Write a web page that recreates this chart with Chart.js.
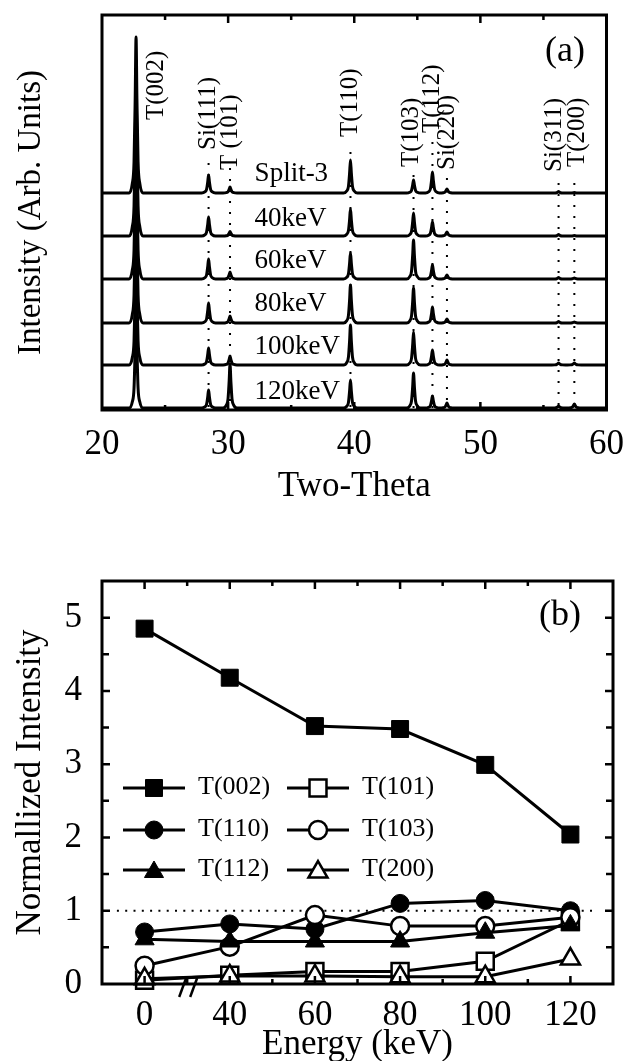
<!DOCTYPE html>
<html>
<head>
<meta charset="utf-8">
<script src="https://cdn.jsdelivr.net/npm/chart.js@4.4.0/dist/chart.umd.min.js"></script>
<style>
  html, body { margin: 0; padding: 0; background: #fff; }
  canvas { display: block; }
</style>
</head>
<body>
<canvas id="xrdChart" width="630" height="530"></canvas>
<canvas id="intChart" width="630" height="531"></canvas>
<script>
// ---------- (a) XRD patterns ----------
const peakNames  = ['T(002)', 'Si(111)', 'T (101)', 'T(110)', 'T(103)', 'T(112)', 'Si(220)', 'Si(311)', 'T(200)'];
const peakAngles = [22.7, 28.45, 30.15, 39.7, 44.7, 46.2, 47.35, 56.2, 57.45];

const sampleNames  = ['Split-3', '40keV', '60keV', '80keV', '100keV', '120keV'];
const traceOffsets = [217, 174, 131, 87, 45, 2];

// peak heights above each trace's own baseline, same order as peakAngles
const heightsSplit3 = [156, 18, 6, 33, 13, 21, 4, 1.5, 0.5];
const heights40     = [150, 19, 4.5, 27, 23, 14, 4, 1.5, 0.5];
const heights60     = [145, 20, 7, 26, 39, 14, 4, 1.5, 1];
const heights80     = [140, 20, 7, 38, 35, 16, 4, 1.5, 1];
const heights100    = [120, 17, 9, 40, 33, 15, 5, 2, 2];
const heights120    = [100, 18, 44, 28, 35, 12, 5, 2, 4];
const traceHeights  = [heightsSplit3, heights40, heights60, heights80, heights100, heights120];

const twoThetaTicks = [20, 30, 40, 50, 60];

// ---------- (b) normalized intensity ----------
const energies = [0, 40, 60, 80, 100, 120];
const t002 = [4.85, 4.18, 3.52, 3.48, 2.99, 2.04];
const t101 = [0.05, 0.12, 0.17, 0.17, 0.31, 0.87];
const t110 = [0.71, 0.82, 0.75, 1.10, 1.14, 1.00];
const t103 = [0.25, 0.51, 0.94, 0.79, 0.79, 0.91];
const t112 = [0.61, 0.58, 0.58, 0.58, 0.70, 0.80];
const t200 = [0.07, 0.11, 0.11, 0.10, 0.10, 0.34];
const energyTicks = [0, 40, 60, 80, 100, 120];

Chart.defaults.font.family = "'Liberation Serif', 'Times New Roman', Times, serif";
Chart.defaults.color = '#000';
Chart.defaults.animation = false;

const SERIF = "'Liberation Serif', 'Times New Roman', Times, serif";

// line shape used for one diffraction peak: [offset in degrees, fraction of height]
const peakProfile = [[-0.55, 0], [-0.3, 0.06], [-0.16, 0.2], [-0.07, 0.6], [0, 1],
                     [0.07, 0.6], [0.16, 0.2], [0.3, 0.06], [0.55, 0]];

function buildTrace(offset, heights) {
  const pts = [{x: 20, y: offset}];
  peakAngles.forEach((a, j) => {
    peakProfile.forEach(([dx, f]) => pts.push({x: a + dx, y: offset + heights[j] * f}));
  });
  pts.push({x: 60, y: offset});
  return pts;
}

// label placement for peak names (pixel shift from the peak, bottom end of text, top of dotted guide)
const peakLabelLayout = [
  {dx: 20, bottom: 120, guideTop: null},
  {dx: 0,  bottom: 150, guideTop: 163},
  {dx: 0,  bottom: 170, guideTop: 168},
  {dx: 0,  bottom: 137, guideTop: 152},
  {dx: -2, bottom: 167, guideTop: 175},
  {dx: 0,  bottom: 133, guideTop: 142},
  {dx: 0,  bottom: 170, guideTop: 178},
  {dx: -4, bottom: 172, guideTop: 183},
  {dx: 3,  bottom: 167, guideTop: 183}
];
const sampleLabelLift = [19, 17, 18, 19, 18, 16];

const xrdDecor = {
  id: 'xrdDecor',
  beforeDatasetsDraw(chart) {
    const {ctx, chartArea: ca, scales: {x}} = chart;
    ctx.save();
    ctx.strokeStyle = '#000';
    ctx.lineWidth = 2;
    ctx.setLineDash([2, 9]);
    peakAngles.forEach((a, j) => {
      const top = peakLabelLayout[j].guideTop;
      if (top === null) return;
      const px = x.getPixelForValue(a);
      ctx.beginPath();
      ctx.moveTo(px, top);
      ctx.lineTo(px, ca.bottom);
      ctx.stroke();
    });
    ctx.restore();
  },
  afterDraw(chart) {
    const {ctx, chartArea: ca, scales: {x, y}} = chart;
    ctx.save();
    ctx.strokeStyle = '#000';
    ctx.fillStyle = '#000';
    // ticks, pointing inward
    ctx.lineWidth = 2.5;
    for (let v = 25; v < 60; v += 5) {
      const px = x.getPixelForValue(v);
      const len = v % 10 === 0 ? 8 : 5;
      ctx.beginPath();
      ctx.moveTo(px, ca.bottom); ctx.lineTo(px, ca.bottom - len);
      ctx.moveTo(px, ca.top); ctx.lineTo(px, ca.top + len);
      ctx.stroke();
    }
    ctx.lineWidth = 3;
    ctx.strokeRect(ca.left, ca.top, ca.right - ca.left, ca.bottom - ca.top);

    // peak names
    ctx.font = '25px ' + SERIF;
    ctx.textAlign = 'left';
    ctx.textBaseline = 'middle';
    peakNames.forEach((name, j) => {
      const lay = peakLabelLayout[j];
      ctx.save();
      ctx.translate(x.getPixelForValue(peakAngles[j]) + lay.dx, lay.bottom);
      ctx.rotate(-Math.PI / 2);
      ctx.fillText(name, 0, 0);
      ctx.restore();
    });

    // sample names
    ctx.font = '27px ' + SERIF;
    sampleNames.forEach((name, i) => {
      ctx.fillText(name, x.getPixelForValue(32.1), y.getPixelForValue(traceOffsets[i]) - sampleLabelLift[i]);
    });

    ctx.font = '36px ' + SERIF;
    ctx.textAlign = 'center';
    ctx.fillText('(a)', 565, 52);
    ctx.restore();
  }
};

new Chart(document.getElementById('xrdChart'), {
  type: 'line',
  data: {
    datasets: sampleNames.map((name, i) => ({
      label: name,
      data: buildTrace(traceOffsets[i], traceHeights[i]),
      borderColor: '#000',
      borderWidth: 3,
      pointRadius: 0,
      cubicInterpolationMode: 'monotone',
      fill: false
    }))
  },
  options: {
    responsive: false,
    events: [],
    layout: { padding: { left: 0, top: 15, right: 18, bottom: 0 } },
    plugins: { legend: { display: false }, tooltip: { enabled: false } },
    scales: {
      x: {
        type: 'linear', min: 20, max: 60,
        afterFit: (s) => { s.height = 120; },
        afterBuildTicks: (s) => { s.ticks = twoThetaTicks.map(v => ({value: v})); },
        grid: { display: false },
        border: { display: false },
        ticks: { font: { size: 35 }, padding: 6, maxRotation: 0, autoSkip: false },
        title: { display: true, text: 'Two-Theta', font: { size: 35 }, padding: { top: 0, bottom: 22 } }
      },
      y: {
        type: 'linear', min: 0, max: 395,
        afterFit: (s) => { s.width = 102; },
        grid: { display: false },
        border: { display: false },
        ticks: { display: false },
        title: { display: true, text: 'Intensity (Arb. Units)', font: { size: 33 }, padding: { top: 12, bottom: 0 } }
      }
    }
  },
  plugins: [xrdDecor]
});

// ---------- (b) ----------
// the energy axis is broken between 0 and 40: 0 keV sits at axis position 20
function axisPos(e) { return e === 0 ? 20 : e; }
function toPoints(vals) { return energies.map((e, i) => ({x: axisPos(e), y: vals[i]})); }

function marker(ctx, style, r, x, y, filled, bw) {
  ctx.beginPath();
  if (style === 'rect') {
    const s = Math.SQRT1_2 * r;
    ctx.rect(x - s, y - s, 2 * s, 2 * s);
  } else if (style === 'circle') {
    ctx.arc(x, y, r, 0, Math.PI * 2);
  } else {
    let rad = 0;
    ctx.moveTo(x + Math.sin(rad) * r, y - Math.cos(rad) * r);
    rad += 2 * Math.PI / 3;
    ctx.lineTo(x + Math.sin(rad) * r, y - Math.cos(rad) * r);
    rad += 2 * Math.PI / 3;
    ctx.lineTo(x + Math.sin(rad) * r, y - Math.cos(rad) * r);
  }
  ctx.closePath();
  ctx.fillStyle = filled ? '#000' : '#fff';
  ctx.fill();
  ctx.lineWidth = bw;
  ctx.strokeStyle = '#000';
  ctx.stroke();
}

const seriesStyle = {
  'T(002)': {data: t002, style: 'rect',     r: 12, filled: true,  order: 5},
  'T(101)': {data: t101, style: 'rect',     r: 12, filled: false, order: 4},
  'T(110)': {data: t110, style: 'circle',   r: 9,  filled: true,  order: 3},
  'T(103)': {data: t103, style: 'circle',   r: 9,  filled: false, order: 2},
  'T(112)': {data: t112, style: 'triangle', r: 11, filled: true,  order: 1},
  'T(200)': {data: t200, style: 'triangle', r: 11, filled: false, order: 0}
};
const legendRows = [['T(002)', 'T(101)'], ['T(110)', 'T(103)'], ['T(112)', 'T(200)']];

const intDecor = {
  id: 'intDecor',
  afterDraw(chart) {
    const {ctx, chartArea: ca, scales: {x, y}} = chart;
    ctx.save();
    ctx.strokeStyle = '#000';
    ctx.lineWidth = 2.5;
    for (let v = 20; v <= 120; v += 10) {
      const px = x.getPixelForValue(v);
      const len = v % 20 === 0 ? 8 : 5;
      ctx.beginPath();
      ctx.moveTo(px, ca.bottom); ctx.lineTo(px, ca.bottom - len);
      ctx.moveTo(px, ca.top); ctx.lineTo(px, ca.top + len);
      ctx.stroke();
    }
    for (let v = 0.5; v <= 5; v += 0.5) {
      const py = y.getPixelForValue(v);
      const len = v % 1 === 0 ? 8 : 7;
      ctx.beginPath();
      ctx.moveTo(ca.left, py); ctx.lineTo(ca.left + len, py);
      ctx.moveTo(ca.right, py); ctx.lineTo(ca.right - len, py);
      ctx.stroke();
    }
    ctx.lineWidth = 3;
    ctx.strokeRect(ca.left, ca.top, ca.right - ca.left, ca.bottom - ca.top);

    // axis break
    const bx = x.getPixelForValue(30) + 1, by = ca.bottom + 3.5;
    ctx.lineWidth = 2.5;
    [-5.5, 5.5].forEach(d => {
      ctx.beginPath();
      ctx.moveTo(bx + d - 3.5, by + 9.5);
      ctx.lineTo(bx + d + 3.5, by - 9.5);
      ctx.stroke();
    });

    // legend
    const rowY = [258, 300, 340];
    const cols = [{x0: 123, x1: 185, m: 154, t: 198}, {x0: 287, x1: 349, m: 318, t: 362}];
    ctx.font = '26px ' + SERIF;
    ctx.textAlign = 'left';
    ctx.textBaseline = 'middle';
    legendRows.forEach((row, ri) => {
      row.forEach((name, ci) => {
        const c = cols[ci], st = seriesStyle[name], yy = rowY[ri];
        ctx.lineWidth = 3;
        ctx.beginPath();
        ctx.moveTo(c.x0, yy); ctx.lineTo(c.x1, yy);
        ctx.stroke();
        marker(ctx, st.style, st.r, c.m, st.style === 'triangle' ? yy + 2 : yy, st.filled, st.filled ? 1 : 2.5);
        ctx.fillStyle = '#000';
        ctx.fillText(name, c.t, yy - 1);
      });
    });

    ctx.font = '36px ' + SERIF;
    ctx.textAlign = 'center';
    ctx.fillStyle = '#000';
    ctx.fillText('(b)', 560, 86);
    ctx.restore();
  }
};

const intDatasets = Object.keys(seriesStyle).map(name => {
  const st = seriesStyle[name];
  return {
    label: name,
    data: toPoints(st.data),
    order: st.order,
    borderColor: '#000',
    borderWidth: 3,
    pointStyle: st.style,
    pointRadius: st.r,
    pointBackgroundColor: st.filled ? '#000' : '#fff',
    pointBorderColor: '#000',
    pointBorderWidth: st.filled ? 1 : 2.5,
    clip: false
  };
});
intDatasets.push({
  label: 'unity',
  data: [{x: 13.5, y: 1}, {x: 126.5, y: 1}],
  order: 10,
  borderColor: '#000',
  borderWidth: 2,
  borderDash: [2, 6.3],
  pointRadius: 0
});

new Chart(document.getElementById('intChart'), {
  type: 'line',
  data: { datasets: intDatasets },
  options: {
    responsive: false,
    events: [],
    layout: { padding: { left: 0, top: 51, right: 17, bottom: 0 } },
    plugins: { legend: { display: false }, tooltip: { enabled: false } },
    scales: {
      x: {
        type: 'linear', min: 10, max: 130,
        afterFit: (s) => { s.height = 77; },
        afterBuildTicks: (s) => { s.ticks = energyTicks.map(e => ({value: axisPos(e)})); },
        grid: { display: false },
        border: { display: false },
        ticks: {
          font: { size: 35 }, padding: 3, maxRotation: 0, autoSkip: false,
          callback: (v) => String(v === 20 ? 0 : v)
        },
        title: { display: true, text: 'Energy (keV)', font: { size: 35 }, padding: { top: 0, bottom: -5 } }
      },
      y: {
        type: 'linear', min: 0, max: 5.5,
        afterFit: (s) => { s.width = 102; },
        afterBuildTicks: (s) => { s.ticks = [0, 1, 2, 3, 4, 5].map(v => ({value: v})); },
        grid: { display: false },
        border: { display: false },
        ticks: { font: { size: 35 }, padding: 12, autoSkip: false },
        title: { display: true, text: 'Normallized Intensity', font: { size: 35 }, padding: { top: 10, bottom: 0 } }
      }
    }
  },
  plugins: [intDecor]
});
</script>
</body>
</html>
